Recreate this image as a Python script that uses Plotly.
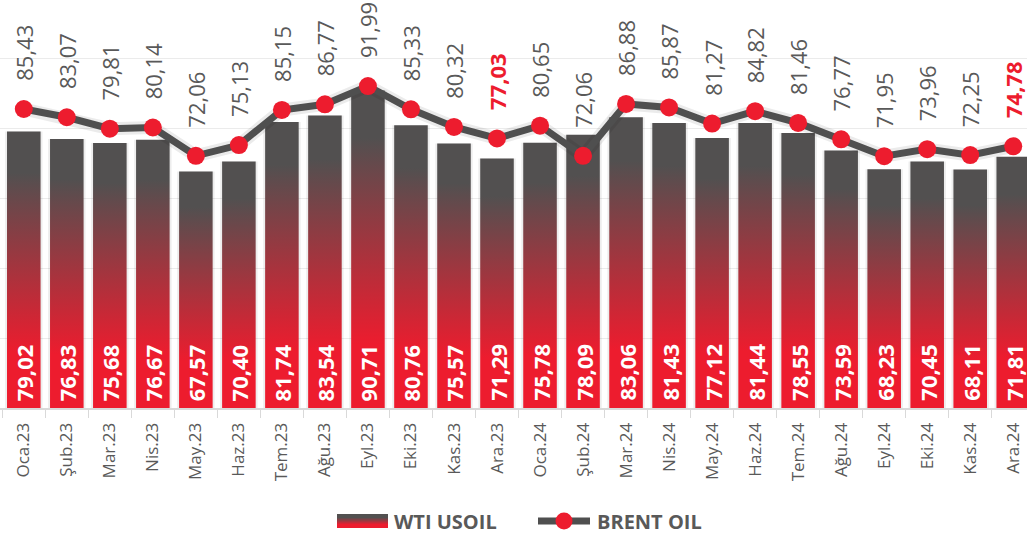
import plotly.graph_objects as go

months = ["Oca.23", "Şub.23", "Mar.23", "Nis.23", "May.23", "Haz.23", "Tem.23", "Ağu.23",
          "Eyl.23", "Eki.23", "Kas.23", "Ara.23", "Oca.24", "Şub.24", "Mar.24", "Nis.24",
          "May.24", "Haz.24", "Tem.24", "Ağu.24", "Eyl.24", "Eki.24", "Kas.24", "Ara.24"]
wti = [79.02, 76.83, 75.68, 76.67, 67.57, 70.40, 81.74, 83.54, 90.71, 80.76, 75.57, 71.29,
       75.78, 78.09, 83.06, 81.43, 77.12, 81.44, 78.55, 73.59, 68.23, 70.45, 68.11, 71.81]
brent = [85.43, 83.07, 79.81, 80.14, 72.06, 75.13, 85.15, 86.77, 91.99, 85.33, 80.32, 77.03,
         80.65, 72.06, 86.88, 85.87, 81.27, 84.82, 81.46, 76.77, 71.95, 73.96, 72.25, 74.78]
highlight = ["Ara.23", "Ara.24"]

RED = "#ED1C2E"
DARK = "#525050"
GREY_TXT = "#595959"
FONT = "Open Sans"

W, H = 1027, 538
PLOT_BOTTOM = 408  # px from top where the x axis sits


def tr(v):
    return f"{v:.2f}".replace(".", ",")


def px(x):
    return x / W


def py(y):
    return (PLOT_BOTTOM - y) / PLOT_BOTTOM


def mix(c1, c2, t):
    a = [int(c1[i:i + 2], 16) for i in (1, 3, 5)]
    b = [int(c2[i:i + 2], 16) for i in (1, 3, 5)]
    return "rgb(%d,%d,%d)" % tuple(round(a[k] + (b[k] - a[k]) * t) for k in range(3))


xs = list(range(len(months)))
half = 0.39

fig = go.Figure()

# soft shadow behind the bars
fig.add_trace(go.Bar(x=xs, y=wti, width=0.87, marker_color="rgba(0,0,0,0.07)",
                     marker_line_width=0, hoverinfo="skip", showlegend=False))

# gradient bars (one filled shape per month so each bar gets its own gradient)
for i, v in enumerate(wti):
    fig.add_trace(go.Scatter(
        x=[i - half, i + half, i + half, i - half, i - half],
        y=[0, 0, v, v, 0],
        mode="lines", line_width=0, fill="toself",
        fillgradient=dict(type="vertical", start=0, stop=v,
                          colorscale=[[0, RED], [0.2, RED], [0.85, DARK], [1, DARK]]),
        name="WTI USOIL", showlegend=False, hoverinfo="skip"))

# faint shadow under the brent line
fig.add_trace(go.Scatter(
    x=xs, y=brent, mode="lines", showlegend=False, hoverinfo="skip",
    line=dict(color="rgba(0,0,0,0.08)", width=13)))

fig.add_trace(go.Scatter(
    x=xs, y=brent, mode="lines+markers", name="BRENT OIL", showlegend=False,
    line=dict(color="#4F4F4F", width=7),
    marker=dict(color=RED, size=18),
    hovertemplate="%{y}<extra></extra>"))

ann = []
for i, (m, b, w) in enumerate(zip(months, brent, wti)):
    hl = m in highlight
    ann.append(dict(x=i, y=b, text=f"<b>{tr(b)}</b>" if hl else tr(b), textangle=-90,
                    showarrow=False, yanchor="bottom", xanchor="center", yshift=26,
                    font=dict(family=FONT, size=22, color=RED if hl else GREY_TXT)))
    ann.append(dict(x=i, y=0, text=f"<b>{tr(w)}</b>", textangle=-90,
                    showarrow=False, yanchor="bottom", xanchor="center", yshift=5,
                    font=dict(family=FONT, size=22, color="white")))

# hand-drawn legend (gradient swatch + line/marker), below the axis labels
shapes = []
sw_top, sw_bot = 514, 528
for k in range(sw_bot - sw_top):
    t = min(1, max(0, (k - 3) / 7))
    shapes.append(dict(type="rect", xref="paper", yref="paper",
                       x0=px(337), x1=px(388), y0=py(sw_top + k), y1=py(sw_top + k + 1),
                       fillcolor=mix(DARK, RED, t), line_width=0))
shapes.append(dict(type="line", xref="paper", yref="paper",
                   x0=px(538), x1=px(590), y0=py(521), y1=py(521),
                   line=dict(color="#4F4F4F", width=7)))
shapes.append(dict(type="circle", xref="paper", yref="paper",
                   x0=px(555.5), x1=px(572.5), y0=py(512.5), y1=py(529.5),
                   fillcolor=RED, line_width=0))
for label, left in [("WTI USOIL", 392), ("BRENT OIL", 595)]:
    ann.append(dict(xref="paper", yref="paper", x=px(left), y=py(521), text=f"<b>{label}</b>",
                    showarrow=False, xanchor="left", yanchor="middle",
                    font=dict(family=FONT, size=20, color=GREY_TXT)))

fig.update_layout(
    width=W, height=H,
    margin=dict(l=0, r=0, t=0, b=H - PLOT_BOTTOM),
    plot_bgcolor="white", paper_bgcolor="white",
    barmode="overlay",
    font=dict(family=FONT, color=GREY_TXT),
    showlegend=False,
    annotations=ann,
    shapes=shapes,
    xaxis=dict(range=[-0.553, 23.32], tickmode="array", tickvals=xs, ticktext=months,
               tickangle=-90, tickfont=dict(size=17, color=GREY_TXT), ticks="",
               ticklabelstandoff=6,
               showgrid=False, zeroline=False, showline=True, linecolor="#D9D9D9", linewidth=2,
               minor=dict(tickmode="linear", tick0=0.5, dtick=1, ticks="outside", ticklen=8,
                          tickcolor="#D9D9D9", tickwidth=1, showgrid=False)),
    yaxis=dict(range=[0, 116.57], tickmode="linear", tick0=0, dtick=20, showticklabels=False,
               gridcolor="#EBEBEB", gridwidth=1, zeroline=False),
)

fig.write_html("out.html", config={"displayModeBar": False},
               post_script="document.body.style.margin='0';")
